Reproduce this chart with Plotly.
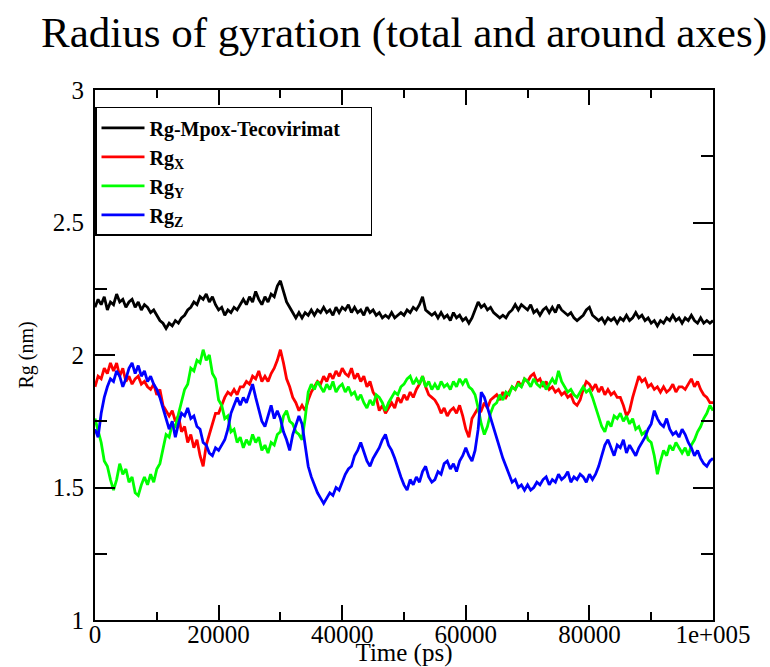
import plotly.graph_objects as go

# Time axis: one sample every 500 ps from 0 to 100000 ps
time_ps = [i * 500 for i in range(201)]

rg_total = [
    2.18, 2.21, 2.19, 2.22, 2.17, 2.20, 2.19, 2.23, 2.20, 2.21,
    2.18, 2.20, 2.21, 2.18, 2.20, 2.17, 2.19, 2.18, 2.16, 2.17,
    2.15, 2.13, 2.12, 2.10, 2.12, 2.11, 2.13, 2.12, 2.14, 2.15,
    2.17, 2.18, 2.20, 2.19, 2.22, 2.21, 2.23, 2.20, 2.22, 2.19,
    2.17, 2.18, 2.15, 2.17, 2.16, 2.18, 2.17, 2.19, 2.21, 2.19,
    2.22, 2.20, 2.24, 2.21, 2.19, 2.22, 2.20, 2.23, 2.22, 2.26,
    2.28, 2.24, 2.20, 2.18, 2.16, 2.14, 2.16, 2.14, 2.16, 2.15,
    2.17, 2.15, 2.17, 2.16, 2.18, 2.16, 2.17, 2.15, 2.18, 2.16,
    2.18, 2.17, 2.19, 2.16, 2.18, 2.16, 2.17, 2.15, 2.18, 2.16,
    2.17, 2.15, 2.16, 2.14, 2.15, 2.14, 2.16, 2.14, 2.15, 2.16,
    2.15, 2.17, 2.16, 2.18, 2.17, 2.19, 2.22, 2.17, 2.16, 2.15,
    2.16, 2.14, 2.16, 2.14, 2.15, 2.13, 2.16, 2.14, 2.15, 2.13,
    2.14, 2.12, 2.14, 2.17, 2.20, 2.18, 2.19, 2.17, 2.18, 2.16,
    2.15, 2.14, 2.15, 2.14, 2.16, 2.17, 2.19, 2.17, 2.19, 2.18,
    2.17, 2.19, 2.16, 2.17, 2.15, 2.17, 2.18, 2.16, 2.18, 2.16,
    2.19, 2.17, 2.16, 2.15, 2.16, 2.14, 2.13, 2.14, 2.15, 2.17,
    2.18, 2.15, 2.14, 2.13, 2.14, 2.12, 2.14, 2.13, 2.14, 2.12,
    2.14, 2.13, 2.15, 2.13, 2.14, 2.16, 2.14, 2.15, 2.13, 2.14,
    2.12, 2.13, 2.11, 2.13, 2.12, 2.14, 2.13, 2.15, 2.13, 2.14,
    2.12, 2.14, 2.13, 2.15, 2.13, 2.12, 2.14, 2.12, 2.13, 2.12,
    2.13,
]

rg_x = [
    1.88, 1.92, 1.91, 1.95, 1.93, 1.97, 1.94, 1.97, 1.92, 1.95,
    1.90, 1.92, 1.89, 1.91, 1.92, 1.89, 1.90, 1.88, 1.87, 1.89,
    1.85, 1.87, 1.81, 1.79, 1.77, 1.79, 1.75, 1.77, 1.71, 1.73,
    1.67, 1.70, 1.65, 1.68, 1.62, 1.58, 1.66, 1.70, 1.74, 1.78,
    1.78, 1.81, 1.84, 1.86, 1.85, 1.87, 1.85, 1.88, 1.88, 1.90,
    1.89, 1.92, 1.91, 1.94, 1.90, 1.92, 1.90, 1.93, 1.95, 1.98,
    2.02, 1.97, 1.91, 1.88, 1.84, 1.82, 1.79, 1.81, 1.79, 1.83,
    1.86, 1.88, 1.90, 1.89, 1.92, 1.90, 1.93, 1.91, 1.94, 1.92,
    1.95, 1.93, 1.92, 1.95, 1.91, 1.93, 1.90, 1.92, 1.88, 1.90,
    1.86, 1.84, 1.79, 1.81, 1.78, 1.80, 1.82, 1.80, 1.84, 1.82,
    1.85, 1.83, 1.86, 1.84, 1.87, 1.89, 1.92, 1.88, 1.85, 1.84,
    1.83, 1.81, 1.78, 1.80, 1.77, 1.79, 1.80, 1.78, 1.81, 1.77,
    1.72, 1.69, 1.76, 1.78, 1.80, 1.79, 1.82, 1.80, 1.83, 1.84,
    1.85, 1.83, 1.86, 1.84, 1.86, 1.88, 1.87, 1.90, 1.88, 1.91,
    1.90, 1.92, 1.93, 1.90, 1.91, 1.88, 1.90, 1.87, 1.88, 1.86,
    1.87, 1.85, 1.86, 1.84, 1.85, 1.82, 1.81, 1.83, 1.87, 1.90,
    1.89, 1.87, 1.89, 1.86, 1.88, 1.85, 1.87, 1.85, 1.86, 1.84,
    1.84, 1.81, 1.77, 1.79, 1.84, 1.88, 1.92, 1.90, 1.91, 1.88,
    1.89, 1.87, 1.88, 1.86, 1.88, 1.86, 1.87, 1.89, 1.86, 1.88,
    1.88, 1.87, 1.89, 1.91, 1.88, 1.90, 1.87, 1.85, 1.84, 1.82,
    1.82,
]

rg_y = [
    1.76, 1.71, 1.67, 1.60, 1.58, 1.53, 1.49, 1.53, 1.59, 1.55,
    1.57, 1.52, 1.54, 1.48, 1.47, 1.51, 1.54, 1.51, 1.55, 1.52,
    1.57, 1.59, 1.64, 1.70, 1.69, 1.74, 1.73, 1.78, 1.82, 1.87,
    1.89, 1.95, 1.94, 1.98, 1.97, 2.02, 1.98, 2.00, 1.93, 1.91,
    1.83, 1.81, 1.76, 1.77, 1.71, 1.72, 1.67, 1.69, 1.65, 1.68,
    1.66, 1.70, 1.67, 1.69, 1.64, 1.66, 1.63, 1.67, 1.66, 1.70,
    1.71, 1.77, 1.79, 1.75, 1.74, 1.71, 1.70, 1.68, 1.76, 1.86,
    1.89, 1.87, 1.90, 1.88, 1.86, 1.89, 1.87, 1.90, 1.86, 1.88,
    1.89, 1.86, 1.88, 1.85, 1.86, 1.83, 1.85, 1.82, 1.80, 1.83,
    1.81, 1.85, 1.84, 1.82, 1.79, 1.82, 1.84, 1.86, 1.85, 1.88,
    1.89, 1.91, 1.92, 1.89, 1.91, 1.89, 1.92, 1.88, 1.90, 1.87,
    1.89, 1.87, 1.90, 1.88, 1.89, 1.87, 1.90, 1.88, 1.91, 1.89,
    1.91, 1.88, 1.87, 1.85, 1.80, 1.74, 1.70, 1.73, 1.78, 1.81,
    1.82, 1.85, 1.83, 1.86, 1.85, 1.88, 1.87, 1.89, 1.88, 1.91,
    1.90, 1.88, 1.91, 1.89, 1.88, 1.90, 1.87, 1.89, 1.91, 1.89,
    1.94, 1.90, 1.88, 1.86, 1.87, 1.85, 1.84, 1.86, 1.88, 1.86,
    1.87, 1.84, 1.80, 1.77, 1.73, 1.71, 1.75, 1.73, 1.77, 1.76,
    1.78, 1.75, 1.77, 1.74, 1.76, 1.72, 1.73, 1.70, 1.71, 1.68,
    1.67, 1.62, 1.55, 1.60, 1.64, 1.62, 1.66, 1.64, 1.67, 1.65,
    1.63, 1.65, 1.62, 1.66, 1.68, 1.71, 1.73, 1.76, 1.78, 1.81,
    1.79,
]

rg_z = [
    1.72, 1.69, 1.78, 1.84, 1.88, 1.91, 1.90, 1.94, 1.92, 1.88,
    1.91, 1.95, 1.97, 1.93, 1.96, 1.92, 1.94, 1.90, 1.92, 1.89,
    1.87, 1.84, 1.80, 1.76, 1.72, 1.75, 1.69, 1.74, 1.78, 1.77,
    1.80, 1.76, 1.77, 1.73, 1.72, 1.67, 1.66, 1.63, 1.62, 1.65,
    1.64, 1.66, 1.68, 1.72, 1.78, 1.81, 1.84, 1.81, 1.84, 1.82,
    1.86, 1.89, 1.84, 1.80, 1.75, 1.73, 1.77, 1.81, 1.76, 1.79,
    1.76, 1.71, 1.68, 1.64, 1.70, 1.74, 1.77, 1.74, 1.66, 1.58,
    1.54, 1.51, 1.48, 1.46, 1.44, 1.46, 1.48, 1.47, 1.50, 1.49,
    1.52, 1.55, 1.57, 1.58, 1.62, 1.64, 1.67, 1.63, 1.60, 1.58,
    1.61, 1.63, 1.65, 1.68, 1.70, 1.66, 1.64, 1.61, 1.57, 1.54,
    1.51, 1.49, 1.53, 1.51, 1.54, 1.52, 1.56, 1.58, 1.54, 1.52,
    1.53, 1.56, 1.55, 1.59, 1.60, 1.57, 1.59, 1.56, 1.60, 1.62,
    1.65, 1.62, 1.60, 1.64, 1.72, 1.86, 1.84, 1.80, 1.76, 1.72,
    1.68, 1.64, 1.61, 1.58, 1.55, 1.52, 1.53, 1.50, 1.51, 1.49,
    1.51, 1.49, 1.50, 1.52, 1.51, 1.53, 1.54, 1.51, 1.53, 1.52,
    1.55, 1.53, 1.54, 1.56, 1.52, 1.54, 1.53, 1.55, 1.54, 1.52,
    1.55, 1.53, 1.55, 1.58, 1.62, 1.66, 1.68, 1.65, 1.62, 1.66,
    1.65, 1.68, 1.63, 1.66, 1.64, 1.62, 1.65, 1.67, 1.69, 1.72,
    1.74, 1.79, 1.76, 1.74, 1.73, 1.76, 1.72, 1.70, 1.71, 1.69,
    1.72, 1.70, 1.67, 1.65, 1.62, 1.64, 1.61, 1.59, 1.58, 1.60,
    1.61,
]

series_names = ["Rg-Mpox-Tecovirimat\u00a0\u00a0\u00a0\u00a0\u00a0", "Rg<sub>X</sub>", "Rg<sub>Y</sub>", "Rg<sub>Z</sub>"]
series_colors = ["#000000", "#ff0000", "#00ff00", "#0000ff"]
series_values = [rg_total, rg_x, rg_y, rg_z]

x_tick_vals = [0, 20000, 40000, 60000, 80000, 100000]
x_tick_text = ["0", "20000", "40000", "60000", "80000", "1e+005"]
y_tick_vals = [1, 1.5, 2, 2.5, 3]
y_tick_text = ["1", "1.5", "2", "2.5", "3"]

SERIF = "Liberation Serif"

fig = go.Figure()
for i, (name, color, vals) in enumerate(zip(series_names, series_colors, series_values)):
    fig.add_trace(go.Scatter(
        x=time_ps, y=vals, mode="lines", name=name,
        legendgroup=f"g{i}",
        line=dict(color=color, width=2.8),
    ))

fig.update_layout(
    width=770, height=667,
    margin=dict(l=95, r=57, t=90, b=47),
    paper_bgcolor="white", plot_bgcolor="white",
    font=dict(family=SERIF, color="black"),
    title=dict(
        text="Radius of gyration (total and around axes)",
        font=dict(family=SERIF, size=43, color="black"),
        x=0.5, xref="paper", xanchor="center",
        y=1 - 32 / 667, yref="container", yanchor="middle",
    ),
    showlegend=True,
    legend=dict(
        x=0, y=0.968, xanchor="left", yanchor="top",
        bgcolor="white", bordercolor="black", borderwidth=1.5,
        font=dict(family=SERIF, size=20, color="black", weight="bold"),
        tracegroupgap=0,
        itemwidth=43,
    ),
)

fig.update_xaxes(
    range=[0, 100000], automargin=False,
    tickmode="array", tickvals=x_tick_vals, ticktext=x_tick_text,
    ticks="inside", ticklen=15, tickwidth=2, tickcolor="black",
    minor=dict(dtick=10000, ticks="inside", ticklen=8, tickwidth=2, tickcolor="black"),
    showline=True, linewidth=2, linecolor="black", mirror="ticks",
    showgrid=False, zeroline=False,
    ticklabelstandoff=-9,
    tickfont=dict(family=SERIF, size=25, color="black"),
    title=dict(text="Time (ps)", font=dict(family=SERIF, size=25, color="black"), standoff=0),
)
fig.update_yaxes(
    range=[1, 3], automargin=False,
    tickmode="array", tickvals=y_tick_vals, ticktext=y_tick_text,
    ticks="inside", ticklen=20, tickwidth=2, tickcolor="black",
    minor=dict(dtick=0.25, ticks="inside", ticklen=12, tickwidth=2, tickcolor="black"),
    showline=True, linewidth=2, linecolor="black", mirror="ticks",
    showgrid=False, zeroline=False,
    ticklabelstandoff=4,
    tickfont=dict(family=SERIF, size=25, color="black"),
    title=dict(text="Rg (nm)", font=dict(family=SERIF, size=20, color="black"), standoff=14),
)

fig.write_html("out.html")
